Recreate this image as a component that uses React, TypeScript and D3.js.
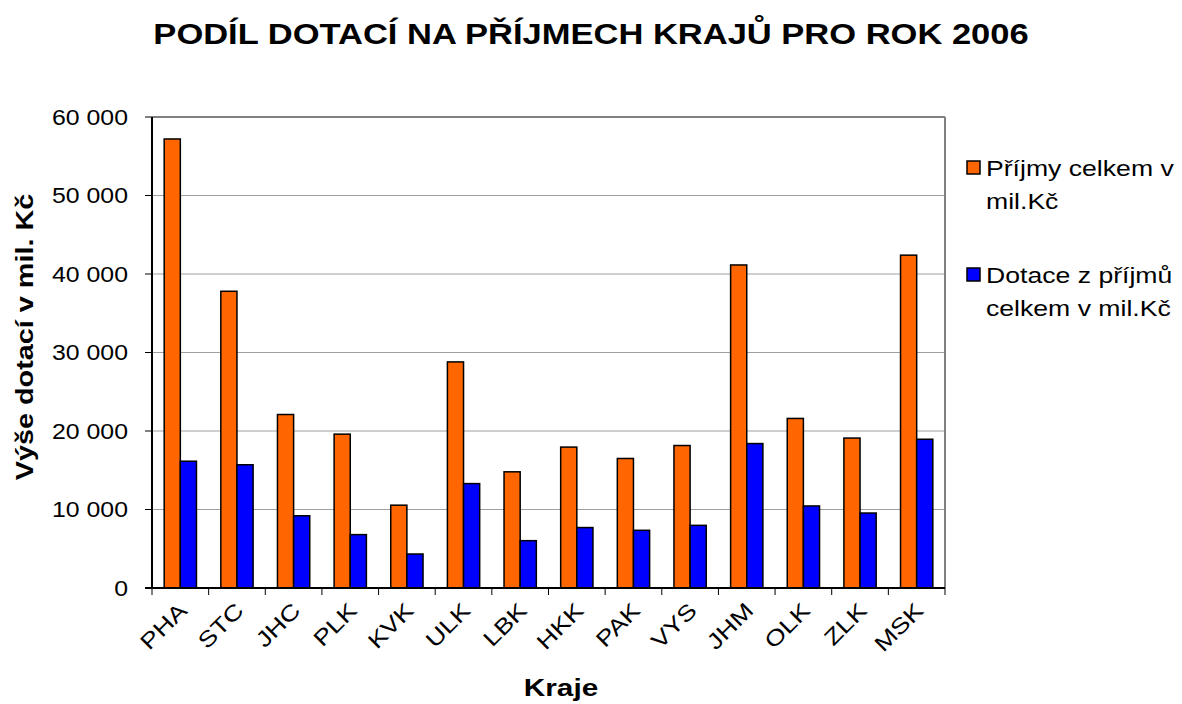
import React from "react";
import * as d3 from "d3";

const categories = ["PHA", "STC", "JHC", "PLK", "KVK", "ULK", "LBK", "HKK", "PAK", "VYS", "JHM", "OLK", "ZLK", "MSK"];
const prijmy = [57200, 37800, 22100, 19600, 10550, 28800, 14800, 17950, 16500, 18150, 41150, 21600, 19100, 42400];
const dotace = [16150, 15700, 9200, 6800, 4330, 13300, 6030, 7700, 7350, 7980, 18400, 10450, 9550, 18950];
const yTicks = [0, 10000, 20000, 30000, 40000, 50000, 60000];
const seriesNames = [["Příjmy celkem v", "mil.Kč"], ["Dotace z příjmů", "celkem v mil.Kč"]];
const colors = ["#FF6600", "#0000FF"];

const W = 1182, H = 704;
const M = { left: 152, top: 117, right: 945, bottom: 588 };

type TProps = { x: number; y: number; rot?: number; sx?: number; anchor?: string; size: number; bold?: boolean; dy?: string; children: React.ReactNode };
function T({ x, y, rot = 0, sx = 1, anchor = "start", size, bold, dy, children }: TProps) {
  return (
    <text transform={`translate(${x},${y}) rotate(${rot}) scale(${sx},1)`} textAnchor={anchor} fontSize={size} fontWeight={bold ? "bold" : "normal"} dy={dy}>
      {children}
    </text>
  );
}

export default function App() {
  const x = d3.scaleBand<string>().domain(categories).range([M.left, M.right]).paddingInner(0.43).paddingOuter(0.215);
  const xs = d3.scaleBand<number>().domain([0, 1]).range([0, x.bandwidth()]);
  const y = d3.scaleLinear().domain([0, 60000]).range([M.bottom, M.top]);
  const step = (M.right - M.left) / categories.length;
  const fmt = (v: number) => d3.format(",")(v).replace(/,/g, " ");
  const font = "Arial, 'Liberation Sans', sans-serif";
  const series = [prijmy, dotace];
  return (
    <svg width={W} height={H} style={{ position: "absolute", left: 0, top: 0, background: "#fff" }} fontFamily={font}>
      <T x={591} y={44} anchor="middle" size={29} bold sx={1.19}>PODÍL DOTACÍ NA PŘÍJMECH KRAJŮ PRO ROK 2006</T>
      {yTicks.slice(1).map((t) => (
        <line key={t} x1={M.left} x2={M.right} y1={y(t)} y2={y(t)} stroke={t === 60000 ? "#808080" : "#a0a0a0"} strokeWidth={t === 60000 ? 2 : 1.2} />
      ))}
      <line x1={M.right} x2={M.right} y1={M.top} y2={M.bottom} stroke="#808080" strokeWidth={2} />
      {yTicks.map((t) => (
        <g key={t}>
          <line x1={M.left - 7} x2={M.left} y1={y(t)} y2={y(t)} stroke="#000" strokeWidth={1} />
          <T x={128} y={y(t)} dy="0.35em" anchor="end" size={22} sx={1.13}>{fmt(t)}</T>
        </g>
      ))}
      {categories.map((c, i) => (
        <g key={c}>
          {series.map((s, k) => (
            <rect key={k} x={(x(c) as number) + (xs(k) as number)} y={y(s[i])} width={xs.bandwidth()} height={M.bottom - y(s[i])} fill={colors[k]} stroke="#000" strokeWidth={1.5} />
          ))}
        </g>
      ))}
      {d3.range(categories.length + 1).map((i) => (
        <line key={i} x1={M.left + i * step} x2={M.left + i * step} y1={M.bottom} y2={M.bottom + 7} stroke="#000" strokeWidth={1} />
      ))}
      <line x1={M.left} x2={M.left} y1={M.top} y2={M.bottom} stroke="#000" strokeWidth={2} />
      <line x1={M.left - 7} x2={M.right} y1={M.bottom} y2={M.bottom} stroke="#000" strokeWidth={2} />
      {categories.map((c) => {
        const cx = (x(c) as number) + x.bandwidth() / 2 + 8;
        return (
          <T key={c} x={cx} y={612} rot={-45} anchor="end" size={22} sx={1.22}>{c}</T>
        );
      })}
      <T x={561} y={696} anchor="middle" size={24} bold sx={1.24}>Kraje</T>
      <T x={33} y={337} rot={-90} anchor="middle" size={24} bold sx={1.2}>Výše dotací v mil. Kč</T>
      {seriesNames.map((lines, k) => {
        const y0 = 168 + k * 107;
        return (
          <g key={k}>
            <rect x={967} y={y0 - 7} width={13} height={13} fill={colors[k]} stroke="#000" strokeWidth={1.5} />
            {lines.map((l, j) => (
              <T key={j} x={986} y={y0 + j * 33} dy="0.35em" size={22} sx={1.21}>{l}</T>
            ))}
          </g>
        );
      })}
    </svg>
  );
}
